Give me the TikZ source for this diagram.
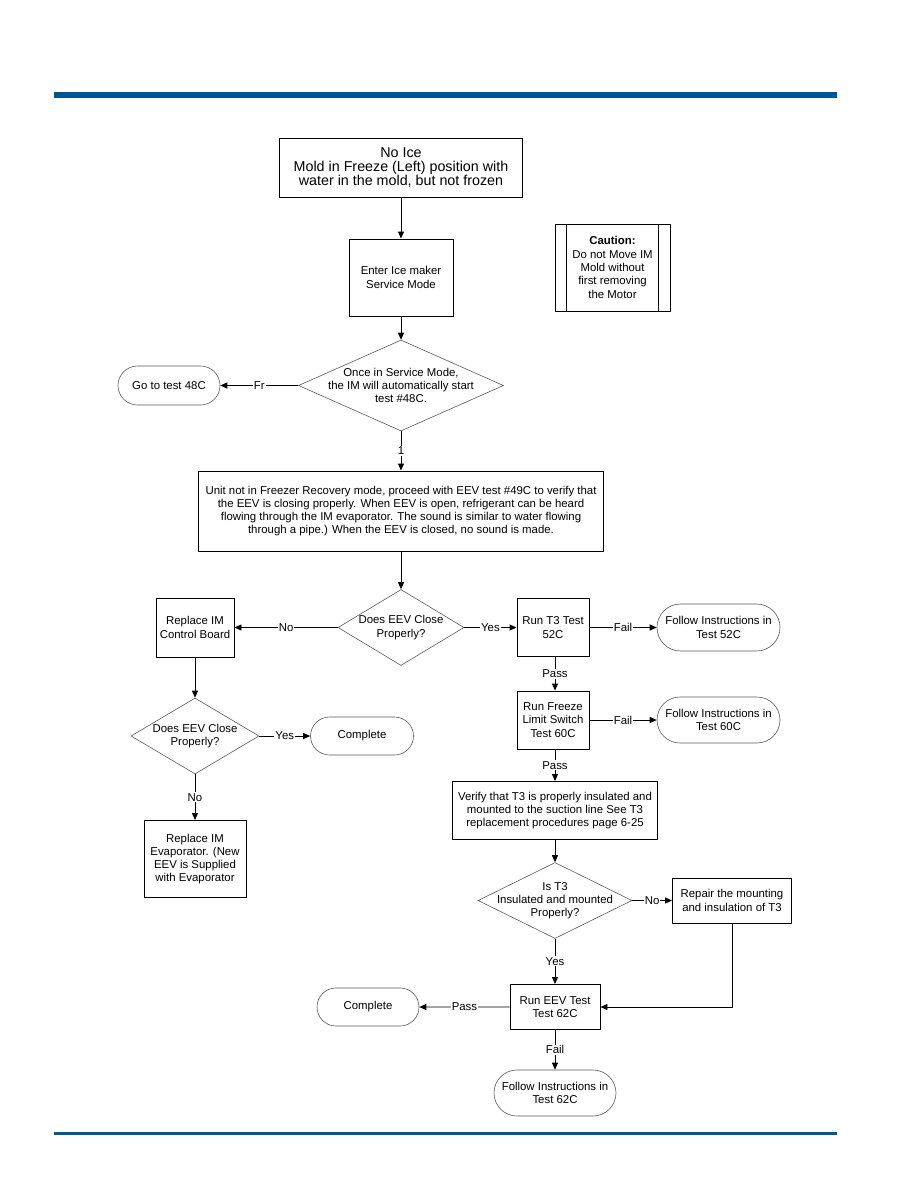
\documentclass[tikz,border=0pt]{standalone}
\usepackage{fontspec}
\setmainfont{Liberation Sans}
\usetikzlibrary{positioning,shapes.geometric,shapes.misc,arrows.meta}
\definecolor{barblue}{RGB}{0,85,148}

\begin{document}
\begin{tikzpicture}[x=1pt,y=-1pt,
  >={Triangle[length=7pt,width=6pt]},
  every node/.style={font=\fontsize{11.4}{13.3}\selectfont},
  procbox/.style={draw,line width=0.9pt,inner sep=0pt,align=center},
  decision/.style={diamond,draw=black!65,line width=0.6pt,inner sep=0pt},
  terminal/.style={rounded rectangle,draw=black!65,line width=0.6pt,inner sep=0pt,align=center},
  lbl/.style={fill=white,inner sep=1pt},
  flow/.style={->,line width=0.9pt}]
\useasboundingbox (0,0) rectangle (918,1188);
% ---- page bars ----
\fill[barblue] (54,92) rectangle (837,98);
\fill[barblue] (54,1132) rectangle (837,1135);
% ---- top of the chart ----
\node[procbox,minimum width=243,minimum height=59,font=\fontsize{14.3}{14.3}\selectfont] (noice) at (401,167.5) {No Ice\\Mold in Freeze (Left) position with\\water in the mold, but not frozen};
\node[procbox,minimum width=104,minimum height=77] (enter) at (401,277.5) {Enter Ice maker\\Service Mode};
\node[procbox,minimum width=115,minimum height=87] (caution) at (612.5,267.5) {\textbf{Caution:}\\Do not Move IM\\Mold without\\first removing\\the Motor};
\draw[line width=0.9pt] ([xshift=12pt]caution.north west) -- ([xshift=12pt]caution.south west);
\draw[line width=0.9pt] ([xshift=-12pt]caution.north east) -- ([xshift=-12pt]caution.south east);
\node[decision,minimum width=205,minimum height=91,label={[align=center]center:Once in Service Mode,\\the IM will automatically start\\test \#48C.}] (svc) at (401,385.5) {};
\node[terminal,minimum width=102,minimum height=39] (go48) at (169,385.5) {Go to test 48C};
\node[procbox,minimum width=405,minimum height=80] (eevtest) at (401,511) {Unit not in Freezer Recovery mode, proceed with EEV test \#49C to verify that\\the EEV is closing properly. When EEV is open, refrigerant can be heard\\flowing through the IM evaporator. The sound is similar to water flowing\\through a pipe.) When the EEV is closed, no sound is made.};
% ---- left branch ----
\node[decision,minimum width=126,minimum height=76,label={[align=center]center:Does EEV Close\\Properly?}] (close1) at (401,627.5) {};
\node[procbox,minimum width=78,minimum height=59] (board) at (195,627.5) {Replace IM\\Control Board};
\node[decision,minimum width=128,minimum height=76,label={[align=center]center:Does EEV Close\\Properly?}] (close2) at (195,736) {};
\node[terminal,minimum width=103,minimum height=38] (done1) at (362,736) {Complete};
\node[procbox,minimum width=102,minimum height=77] (evap) at (195,859) {Replace IM\\Evaporator. (New\\EEV is Supplied\\with Evaporator};
% ---- right branch ----
\node[procbox,minimum width=72,minimum height=58] (t3test) at (553,627.5) {Run T3 Test\\52C};
\node[terminal,minimum width=123,minimum height=47] (fol52) at (718.5,627.5) {Follow Instructions in\\Test 52C};
\node[procbox,minimum width=72,minimum height=58] (limit) at (553,720) {Run Freeze\\Limit Switch\\Test 60C};
\node[terminal,minimum width=123,minimum height=46] (fol60) at (718.5,720) {Follow Instructions in\\Test 60C};
\node[procbox,minimum width=205,minimum height=58] (verify) at (555,810.5) {Verify that T3 is properly insulated and\\mounted to the suction line See T3\\replacement procedures page 6-25};
\node[decision,minimum width=154,minimum height=76,label={[align=center]center:Is T3\\Insulated and mounted\\Properly?}] (insul) at (555,900.5) {};
\node[procbox,minimum width=119,minimum height=45] (repair) at (732,900.5) {Repair the mounting\\and insulation of T3};
\node[procbox,minimum width=90,minimum height=45] (eevrun) at (555,1007) {Run EEV Test\\Test 62C};
\node[terminal,minimum width=102,minimum height=38] (done2) at (368,1007) {Complete};
\node[terminal,minimum width=122,minimum height=46] (fol62) at (555,1093) {Follow Instructions in\\Test 62C};
% ---- connectors ----
\draw[flow] (noice) -- (enter);
\draw[flow] (enter) -- (svc);
\draw[flow] (svc) -- node[lbl] {Fr} (go48);
\draw[flow] (svc) -- node[lbl] {1} (eevtest);
\draw[flow] (eevtest) -- (close1);
\draw[flow] (close1) -- node[lbl] {No} (board);
\draw[flow] (close1) -- node[lbl] {Yes} (t3test);
\draw[flow] (t3test) -- node[lbl] {Fail} (fol52);
\draw[flow] (t3test.south -| verify) -- node[lbl] {Pass} (limit.north -| verify);
\draw[flow] (limit) -- node[lbl] {Fail} (fol60);
\draw[flow] (limit.south -| verify) -- node[lbl] {Pass} (verify);
\draw[flow] (board) -- (close2);
\draw[flow] (close2) -- node[lbl] {Yes} (done1);
\draw[flow] (close2) -- node[lbl] {No} (evap);
\draw[flow] (verify) -- (insul);
\draw[flow] (insul) -- node[lbl] {No} (repair);
\draw[flow] (insul) -- node[lbl] {Yes} (eevrun);
\draw[flow] (repair) |- (eevrun);
\draw[flow] (eevrun) -- node[lbl] {Pass} (done2);
\draw[flow] (eevrun) -- node[lbl] {Fail} (fol62);
\end{tikzpicture}
\end{document}
